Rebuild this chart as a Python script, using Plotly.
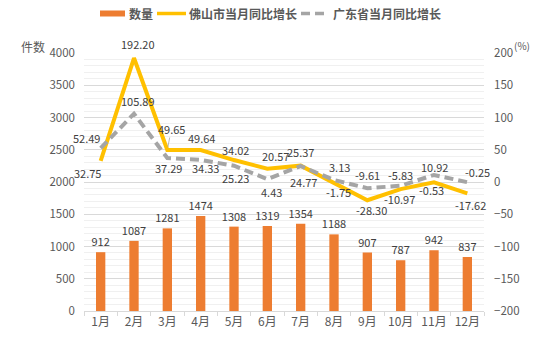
import plotly.graph_objects as go

# ---- data ----
months = ["1月", "2月", "3月", "4月", "5月", "6月", "7月", "8月", "9月", "10月", "11月", "12月"]
counts = [912, 1087, 1281, 1474, 1308, 1319, 1354, 1188, 907, 787, 942, 837]
foshan_yoy = [32.75, 192.20, 49.65, 49.64, 34.02, 20.57, 25.37, -1.75, -28.30, -10.97, -0.53, -17.62]
guangdong_yoy = [52.49, 105.89, 37.29, 34.33, 25.23, 4.43, 24.77, 3.13, -9.61, -5.83, 10.92, -0.25]

series_names = ["数量", "佛山市当月同比增长", "广东省当月同比增长"]

# ---- style ----
BAR_COLOR = "#ED7D31"
FS_COLOR = "#FFC000"
GD_COLOR = "#A5A5A5"
TEXT = "#404040"
AXIS_TEXT = "#595959"
FONT = "Noto Sans CJK SC, Noto Sans, sans-serif"

W, H = 553, 339
ML, MR, MT, MB = 84, 69, 53, 28

# label offsets in screen pixels (dx right, dy down)
fs_offsets = [(-13, 12), (4, -14), (4, -21), (1, -12), (1, -10), (8, -13),
              (0, -14), (4, 9), (4, 10), (-1, 10), (-3, 8), (3, 12)]
fs_arrow = [False, False, True] + [False] * 9
gd_offsets = [(-14, -10), (4, -13), (1, 10), (5, 8), (1, 12), (4, 13),
              (3, 16), (5, -13), (0, -13), (0, -11), (0, -8), (10, -10)]

fig = go.Figure()

fig.add_trace(go.Bar(
    x=months, y=counts, name=series_names[0],
    marker=dict(color=BAR_COLOR, line=dict(width=0)),
    text=[str(v) for v in counts], textposition="outside", constraintext="none",
    textfont=dict(size=11, color=TEXT, family=FONT),
    cliponaxis=False, showlegend=False,
))

fig.add_trace(go.Scatter(
    x=months, y=foshan_yoy, name=series_names[1], yaxis="y2",
    mode="lines", line=dict(color=FS_COLOR, width=4),
    showlegend=False,
))

fig.add_trace(go.Scatter(
    x=months, y=guangdong_yoy, name=series_names[2], yaxis="y2",
    mode="lines", line=dict(color=GD_COLOR, width=4, dash="9px,5px"),
    showlegend=False,
))

annotations = []
for m, v, (dx, dy), arrow in zip(months, foshan_yoy, fs_offsets, fs_arrow):
    a = dict(x=m, y=v, xref="x", yref="y2", text=f"{v:.2f}", borderpad=0,
             font=dict(size=11, color=TEXT, family=FONT))
    if arrow:
        a.update(showarrow=True, ax=dx, ay=dy, arrowhead=0,
                 arrowwidth=0.8, arrowcolor="#A6A6A6", standoff=3)
    else:
        a.update(showarrow=False, xshift=dx, yshift=-dy)
    annotations.append(a)

for m, v, (dx, dy) in zip(months, guangdong_yoy, gd_offsets):
    annotations.append(dict(x=m, y=v, xref="x", yref="y2", text=f"{v:.2f}",
                            showarrow=False, xshift=dx, yshift=-dy, borderpad=0,
                            font=dict(size=11, color=TEXT, family=FONT)))


def px_x(p):
    return (p - ML) / (W - ML - MR)


def px_y(p):
    return (H - MB - p) / (H - MT - MB)


# axis titles
annotations.append(dict(x=px_x(33), y=px_y(47), xref="paper", yref="paper",
                        xanchor="center", yanchor="middle",
                        text="件数", showarrow=False, borderpad=0,
                        font=dict(size=12, color=AXIS_TEXT, family=FONT)))
annotations.append(dict(x=px_x(522), y=px_y(46), xref="paper", yref="paper",
                        xanchor="center", yanchor="middle",
                        text="(%)", showarrow=False, borderpad=0,
                        font=dict(size=10, color=AXIS_TEXT, family=FONT)))

# legend drawn at the top
shapes = []
LY = 13.5
shapes.append(dict(type="rect", xref="paper", yref="paper",
                   x0=px_x(100), x1=px_x(125), y0=px_y(16.5), y1=px_y(10.5),
                   fillcolor=BAR_COLOR, line=dict(width=0)))
shapes.append(dict(type="line", xref="paper", yref="paper",
                   x0=px_x(157), x1=px_x(186), y0=px_y(LY), y1=px_y(LY),
                   line=dict(color=FS_COLOR, width=3.5)))
shapes.append(dict(type="line", xref="paper", yref="paper",
                   x0=px_x(301), x1=px_x(329), y0=px_y(LY), y1=px_y(LY),
                   line=dict(color=GD_COLOR, width=3.5, dash="9px,5px")))
for name, x0 in zip(series_names, [128, 188, 332]):
    annotations.append(dict(x=px_x(x0), y=px_y(LY), xref="paper", yref="paper",
                            xanchor="left", yanchor="middle",
                            text=f"<b>{name}</b>", showarrow=False, borderpad=0,
                            font=dict(size=12, color=AXIS_TEXT, family=FONT)))

fig.update_layout(
    width=W, height=H,
    margin=dict(l=ML, r=MR, t=MT, b=MB, autoexpand=False),
    paper_bgcolor="white", plot_bgcolor="white",
    bargap=0.72,
    font=dict(family=FONT, color=AXIS_TEXT),
    xaxis=dict(type="category", range=[-0.5, 11.5], showline=True,
               linecolor="#D9D9D9", linewidth=1,
               ticks="outside", tickson="boundaries", ticklen=4, tickcolor="#D9D9D9",
               tickangle=0, automargin=False,
               tickfont=dict(size=12, color=AXIS_TEXT), showgrid=False),
    yaxis=dict(range=[0, 4000], dtick=500, showgrid=True, gridcolor="#D9D9D9",
               gridwidth=1, zeroline=False, showline=False, automargin=False,
               minor=dict(dtick=100, showgrid=True, gridcolor="#F0F0F0", gridwidth=1),
               tickfont=dict(size=11.5, color=AXIS_TEXT), ticklabelstandoff=8),
    yaxis2=dict(range=[-200, 200], dtick=50, overlaying="y", side="right",
                showgrid=False, zeroline=False, showline=False, automargin=False,
                tickfont=dict(size=11.5, color=AXIS_TEXT), ticklabelstandoff=9),
    annotations=annotations,
    shapes=shapes,
    showlegend=False,
)

fig.write_html("out.html")
